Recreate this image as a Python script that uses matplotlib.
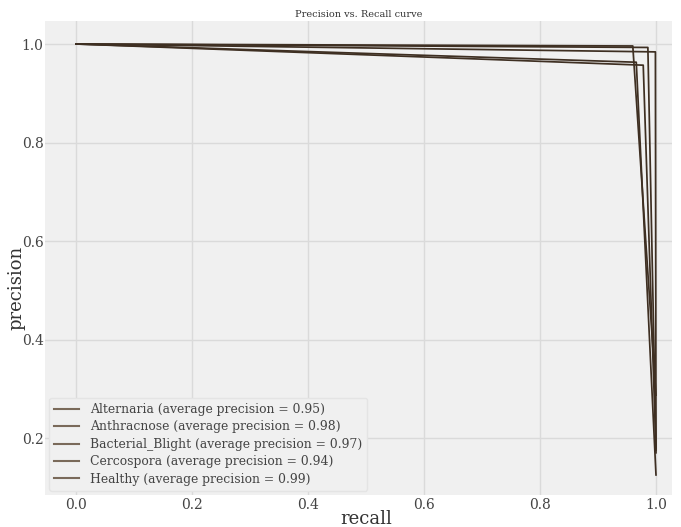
import matplotlib
matplotlib.use("Agg")
import matplotlib.pyplot as plt

classes = ["Alternaria", "Anthracnose", "Bacterial_Blight", "Cercospora", "Healthy"]
avg_precision = [0.95, 0.98, 0.97, 0.94, 0.99]
recall = [
    [0.0, 0.966, 1.0],
    [0.0, 0.986, 1.0],
    [0.0, 0.960, 1.0],
    [0.0, 0.978, 1.0],
    [0.0, 0.999, 1.0],
]
precision = [
    [1.0, 0.963, 0.125],
    [1.0, 0.993, 0.180],
    [1.0, 0.996, 0.287],
    [1.0, 0.957, 0.175],
    [1.0, 0.984, 0.170],
]

plt.rcParams['font.family'] = ['DejaVu Serif']
fig = plt.figure(figsize=(6.81, 5.27), dpi=100, facecolor='white')
L, R, T, B = 45, 672, 21, 495
ax = fig.add_axes([L/681, 1-B/527, (R-L)/681, (B-T)/527])
ax.set_facecolor('#f0f0f0')
for s in ax.spines.values():
    s.set_visible(False)
ax.grid(True, color='#dadada', linewidth=1.0)
ax.set_axisbelow(True)

for c, ap, r, p in zip(classes, avg_precision, recall, precision):
    ax.plot(r, p, color='#3e2f22', linewidth=1.25,
            label=f"{c} (average precision = {ap:.2f})")

ax.set_xlim(-0.0534, 1.0276)
ax.set_ylim(0.0843, 1.0467)
ax.set_xticks([0.0, 0.2, 0.4, 0.6, 0.8, 1.0])
ax.set_yticks([0.2, 0.4, 0.6, 0.8, 1.0])
ax.tick_params(axis='both', length=0, labelsize=10, colors='#444444')
ax.tick_params(axis='x', pad=2)
ax.tick_params(axis='y', pad=1)
ax.set_xlabel("recall", fontsize=13, color='#333333')
ax.set_ylabel("precision", fontsize=13, color='#333333')
ax.xaxis.set_label_coords((366-L)/(R-L), (B-510)/(B-T))
ax.yaxis.set_label_coords((7-L)/(R-L), (B-288)/(B-T))
ax.yaxis.label.set_va('top')
ax.set_title("Precision vs. Recall curve", fontsize=7, color='#333333', pad=3)
leg = ax.legend(loc='lower left', fontsize=8.9, handlelength=2.0, handletextpad=0.9,
                frameon=True, facecolor='#f0f0f0', edgecolor='#e4e4e4',
                labelspacing=0.36, borderaxespad=0.35, framealpha=1.0)
for t in leg.get_texts():
    t.set_color('#444444')
for l in leg.get_lines():
    l.set_color('#7a6a5a')
    l.set_linewidth(1.5)

fig.savefig("out.png", dpi=100, facecolor='white')
